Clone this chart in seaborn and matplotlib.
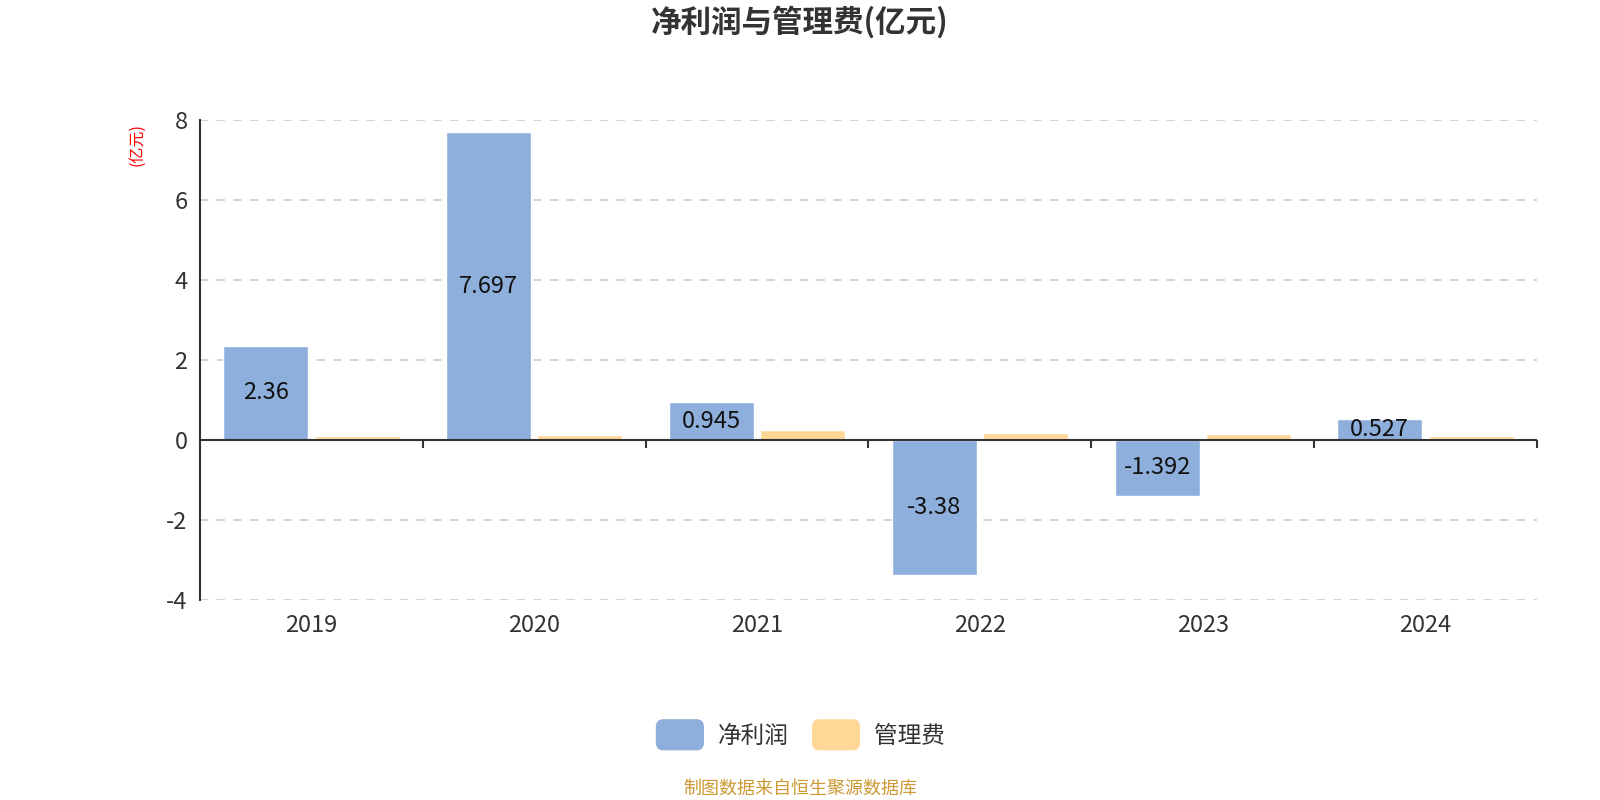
import matplotlib
matplotlib.use('Agg')
import matplotlib.pyplot as plt
import seaborn as sns
import pandas as pd
from matplotlib.patches import FancyBboxPatch, Patch
from matplotlib.legend_handler import HandlerPatch

years = ['2019', '2020', '2021', '2022', '2023', '2024']
net_profit = [2.36, 7.697, 0.945, -3.38, -1.392, 0.527]
admin_fee = [0.10, 0.13, 0.25, 0.175, 0.14, 0.11]
series_names = ['净利润', '管理费']
colors = ['#8eaedb', '#ffd898']
y_ticks = [-4, -2, 0, 2, 4, 6, 8]

sns.set_style('white')
plt.rcParams['font.family'] = ['Noto Sans CJK SC', 'DejaVu Sans']
plt.rcParams['axes.unicode_minus'] = False

df = pd.DataFrame({
    'year': years * 2,
    'value': net_profit + admin_fee,
    'series': [series_names[0]] * len(years) + [series_names[1]] * len(years),
})

fig = plt.figure(figsize=(16, 8), dpi=100)
ax = fig.add_axes([0.125, 0.25, 0.8356, 0.6])

sns.barplot(data=df, x='year', y='value', hue='series', palette=colors,
            width=0.82, gap=0.07, errorbar=None, legend=False, ax=ax,
            saturation=1, zorder=3)

ax.bar_label(ax.containers[0], labels=[f'{v:g}' for v in net_profit],
             label_type='center', fontsize=17, color='#111111')

ax.set_ylim(-4, 8)
ax.set_xlim(-0.5, 5.5)
ax.set_yticks(y_ticks)
ax.set_yticklabels([str(t) for t in y_ticks], fontsize=17, color='#333333')
ax.yaxis.grid(True, linestyle=(0, (5, 5)), color='#cccccc', linewidth=1.2)
ax.set_axisbelow(True)
ax.set_xlabel('')
ax.set_ylabel('')
ax.tick_params(axis='x', length=0, labelsize=17, labelcolor='#333333', pad=10)
ax.tick_params(axis='y', length=5, width=1.5, color='#333333', direction='out', pad=4)

for s in ['top', 'right', 'bottom']:
    ax.spines[s].set_visible(False)
ax.spines['left'].set_color('#333333')
ax.spines['left'].set_linewidth(1.5)

# zero line with category boundary ticks
ax.axhline(0, color='#333333', linewidth=1.5, zorder=5)
zero_pos = (0 - (-4)) / (8 - (-4))
sec = ax.secondary_xaxis(zero_pos)
sec.set_xticks([i - 0.5 for i in range(len(years) + 1)])
sec.set_xticklabels([])
sec.tick_params(axis='x', direction='out', length=6, width=1.5, color='#333333')
for s in sec.spines.values():
    s.set_visible(False)

ax.text(-0.047, 0.948, '(亿元)', transform=ax.transAxes, rotation=90,
        ha='center', va='center', fontsize=11.5, color='#ff0000')

fig.text(0.5, 0.972, '净利润与管理费(亿元)', ha='center', va='center',
         fontsize=22, fontweight='bold', color='#333333')


def make_round(legend, orig_handle, xdescent, ydescent, width, height, fontsize):
    return FancyBboxPatch((-xdescent, -ydescent - 3), width, height + 6,
                          boxstyle='round,pad=0,rounding_size=6')


handles = [Patch(facecolor=c, label=n) for c, n in zip(colors, series_names)]
fig.legend(handles=handles, loc='center', bbox_to_anchor=(0.5, 0.081), ncol=2,
           frameon=False, fontsize=17, handlelength=2.1, handleheight=1.2,
           columnspacing=0.95, handletextpad=0.56,
           handler_map={Patch: HandlerPatch(patch_func=make_round)},
           labelcolor='#333333')

fig.text(0.5, 0.014, '制图数据来自恒生聚源数据库', ha='center', va='center',
         fontsize=13, color='#cc9933')

fig.savefig('out.png', dpi=100)
